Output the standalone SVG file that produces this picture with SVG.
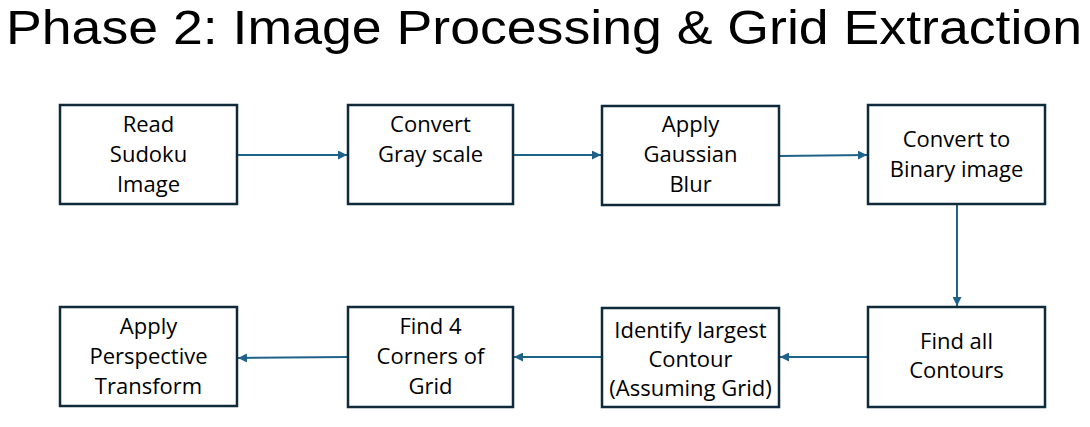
<svg xmlns="http://www.w3.org/2000/svg" width="1090" height="427" viewBox="0 0 1090 427">
<defs>
<style>
.box{fill:#ffffff;stroke:#0e2a3b;stroke-width:2.5}
.lbl{font-family:"Open Sans","Liberation Sans",Arial,sans-serif;font-size:22px;fill:#000;text-anchor:middle}
.title{font-family:"Liberation Sans",Arial,sans-serif;font-size:48px;fill:#000}
.conn{stroke:#1e6289;stroke-width:2;fill:none;marker-end:url(#ah)}
</style>
<marker id="ah" viewBox="0 0 10 10" refX="10" refY="5" markerWidth="4.5" markerHeight="4.5" orient="auto" markerUnits="strokeWidth">
<path d="M0,0 L10,5 L0,10 z" fill="#1e6289"/>
</marker>
</defs>
<rect width="1090" height="427" fill="#ffffff"/>
<text class="title" x="6" y="44" textLength="1076" lengthAdjust="spacingAndGlyphs">Phase 2: Image Processing &amp; Grid Extraction</text>

<g id="connectors">
<line class="conn" x1="237" y1="155" x2="347" y2="155"/>
<line class="conn" x1="513" y1="155" x2="601" y2="155"/>
<line class="conn" x1="779" y1="156" x2="867" y2="155"/>
<line class="conn" x1="957" y1="204" x2="957" y2="306"/>
<line class="conn" x1="868" y1="357" x2="780" y2="357"/>
<line class="conn" x1="602" y1="357" x2="514" y2="357"/>
<line class="conn" x1="348" y1="357" x2="238" y2="358"/>
</g>

<g id="n1">
<rect class="box" x="60" y="105" width="177" height="99"/>
<text class="lbl" x="148.5" y="132">Read</text>
<text class="lbl" x="148.5" y="162">Sudoku</text>
<text class="lbl" x="148.5" y="192">Image</text>
</g>
<g id="n2">
<rect class="box" x="348" y="105" width="165" height="99"/>
<text class="lbl" x="430.5" y="132">Convert</text>
<text class="lbl" x="430.5" y="162">Gray scale</text>
</g>
<g id="n3">
<rect class="box" x="602" y="106" width="177" height="99"/>
<text class="lbl" x="690.5" y="132">Apply</text>
<text class="lbl" x="690.5" y="162">Gaussian</text>
<text class="lbl" x="690.5" y="192">Blur</text>
</g>
<g id="n4">
<rect class="box" x="868" y="105" width="177" height="99"/>
<text class="lbl" x="956.5" y="147">Convert to</text>
<text class="lbl" x="956.5" y="177">Binary image</text>
</g>
<g id="n5">
<rect class="box" x="868" y="307" width="177" height="100"/>
<text class="lbl" x="956.5" y="349">Find all</text>
<text class="lbl" x="956.5" y="378">Contours</text>
</g>
<g id="n6">
<rect class="box" x="602" y="308" width="177" height="99"/>
<text class="lbl" x="690.5" y="338">Identify largest</text>
<text class="lbl" x="690.5" y="367">Contour</text>
<text class="lbl" x="690.5" y="396">(Assuming Grid)</text>
</g>
<g id="n7">
<rect class="box" x="348" y="307" width="165" height="100"/>
<text class="lbl" x="430.5" y="334">Find 4</text>
<text class="lbl" x="430.5" y="364">Corners of</text>
<text class="lbl" x="430.5" y="394">Grid</text>
</g>
<g id="n8">
<rect class="box" x="60" y="307" width="177" height="99"/>
<text class="lbl" x="148.5" y="334">Apply</text>
<text class="lbl" x="148.5" y="364">Perspective</text>
<text class="lbl" x="148.5" y="394">Transform</text>
</g>
</svg>
